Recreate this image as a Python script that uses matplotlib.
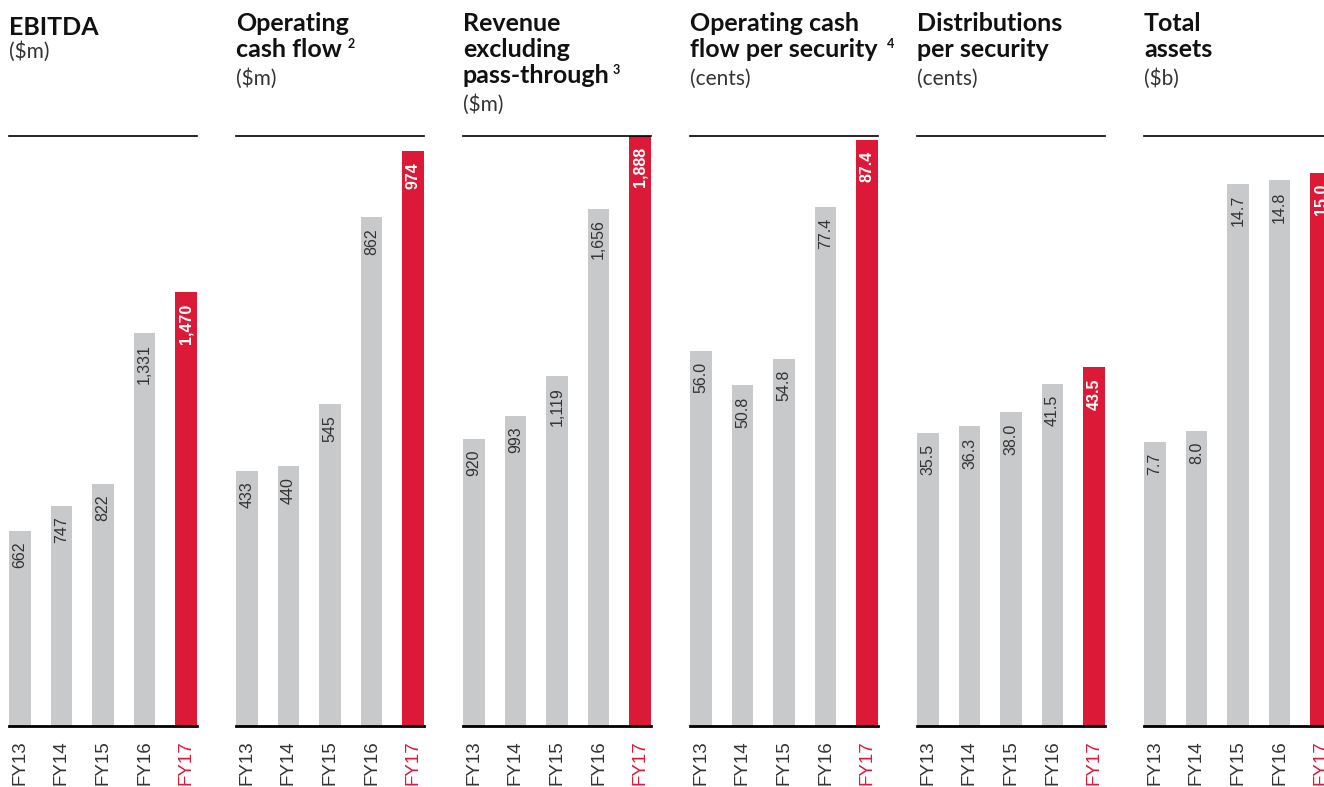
import numpy as np
import matplotlib.pyplot as plt

# data
years = ['FY13', 'FY14', 'FY15', 'FY16', 'FY17']

ebitda = [662, 747, 822, 1331, 1470]
op_cash = [433, 440, 545, 862, 974]
revenue = [920, 993, 1119, 1656, 1888]
ocf_sec = [56.0, 50.8, 54.8, 77.4, 87.4]
dist_sec = [35.5, 36.3, 38.0, 41.5, 43.5]
assets = [7.7, 8.0, 14.7, 14.8, 15.0]

ebitda_lbl = ['662', '747', '822', '1,331', '1,470']
op_cash_lbl = ['433', '440', '545', '862', '974']
revenue_lbl = ['920', '993', '1,119', '1,656', '1,888']
ocf_sec_lbl = ['56.0', '50.8', '54.8', '77.4', '87.4']
dist_sec_lbl = ['35.5', '36.3', '38.0', '41.5', '43.5']
assets_lbl = ['7.7', '8.0', '14.7', '14.8', '15.0']

titles = [['EBITDA'], ['Operating', 'cash flow'], ['Revenue', 'excluding', 'pass-through'],
          ['Operating cash', 'flow per security'], ['Distributions', 'per security'], ['Total', 'assets']]
sups = ['', '2', '3', '4', '', '']
units = ['($m)', '($m)', '($m)', '(cents)', '(cents)', '($b)']

panels = [ebitda, op_cash, revenue, ocf_sec, dist_sec, assets]
labels = [ebitda_lbl, op_cash_lbl, revenue_lbl, ocf_sec_lbl, dist_sec_lbl, assets_lbl]
ymax = [2000, 1000, 1888, 88, 71.5, 16]

grey = '#c8c9cb'
red = '#dc1a37'
txt = '#333333'

W, H = 1324, 787
fig = plt.figure(figsize=(W/100, H/100), dpi=100)

x = np.arange(len(years))
for i in range(6):
    left = 9 + 227*i
    ax = fig.add_axes([left/W, (H-726)/H, 188/W, 590/H])
    cols = [grey]*4 + [red]
    ax.bar(x, panels[i], width=0.53, color=cols)
    ax.set_xlim(-0.265, 4.265)
    ax.set_ylim(0, ymax[i])

    for j, (v, s) in enumerate(zip(panels[i], labels[i])):
        last = j == len(years) - 1
        ax.annotate(s, xy=(j, v), xytext=(0, -8), textcoords='offset points',
                    rotation=90, ha='center', va='top', fontsize=11.5,
                    family='Liberation Sans',
                    color='white' if last else txt,
                    fontweight='bold' if last else 'normal')

    ax.set_xticks(x)
    ax.set_xticklabels(years, rotation=90, fontsize=13.5, family='Liberation Sans', color=txt)
    ax.get_xticklabels()[-1].set_color(red)
    ax.tick_params(axis='x', length=0, pad=10)
    ax.set_yticks([])
    for sp in ['left', 'right']:
        ax.spines[sp].set_visible(False)
    ax.spines['top'].set_linewidth(1.2)
    ax.spines['bottom'].set_linewidth(2)

    # titles
    base = 35 if i == 0 else 31
    t = None
    for k, line in enumerate(titles[i]):
        t = fig.text(left/W, 1 - (base + 26*k)/H, line, fontsize=18, fontweight='bold',
                     family='Lato', color='#111111', va='baseline', ha='left')
    if sups[i]:
        gap = {'2': 4, '3': 2, '4': 7}[sups[i]]
        ax.annotate(sups[i], xy=(1, 1), xycoords=t, xytext=(gap, 0), textcoords='offset points',
                    fontsize=9, fontweight='bold', family='Lato', color='#111111',
                    va='top', ha='left')
    sub_gap = 23 if i == 0 else 28
    fig.text(left/W, 1 - (base + 26*(len(titles[i])-1) + sub_gap)/H, units[i], fontsize=15,
             family='Lato', color=txt, va='baseline', ha='left')

plt.savefig('out.png', dpi=100)
